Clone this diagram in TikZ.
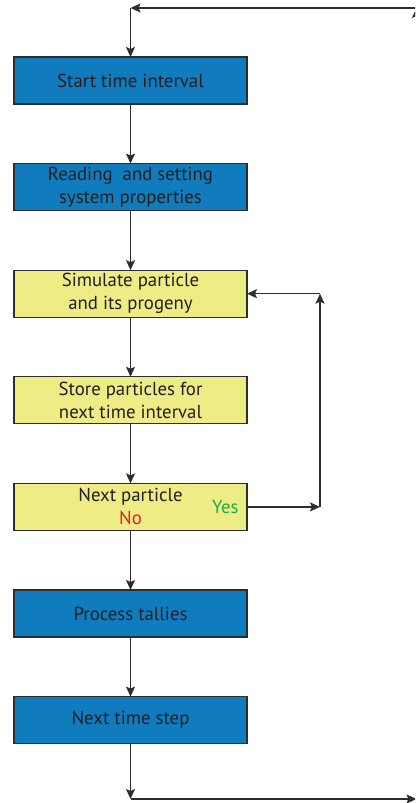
\documentclass[tikz,border=0pt]{standalone}
\usepackage{fontspec}
\setmainfont{PT Sans}
\usetikzlibrary{positioning,arrows.meta}

\definecolor{boxblue}{RGB}{16,124,190}
\definecolor{boxyellow}{RGB}{237,236,133}
\definecolor{linegray}{RGB}{45,45,45}
\definecolor{inkblack}{RGB}{35,31,32}
\definecolor{yesgreen}{RGB}{34,168,74}
\definecolor{nored}{RGB}{237,28,36}

\begin{document}
\begin{tikzpicture}[x=1pt, y=1pt,
    box/.style = {draw=linegray, line width=1.3pt, minimum width=233pt, minimum height=47pt,
                  inner sep=0pt, outer sep=0pt, align=center, text=inkblack,
                  font=\fontsize{18.8}{23}\selectfont},
    main/.style = {box, fill=boxblue},
    sub/.style = {box, fill=boxyellow},
    link/.style = {-{Stealth[length=10pt,width=9pt,inset=2pt]}, line width=1.3pt, linegray}]
    \useasboundingbox (0,0) rectangle (415,803);
    \clip (0,0) rectangle (415,803);

    \node[main] (1) at (130.5,722.5) {Start time interval};
    \node[main] (2) [below=59.6pt of 1] {Reading\ \ and setting\\system properties};
    \node[sub] (3) [below=59.6pt of 2] {Simulate particle\\and its progeny};
    \node[sub] (4) [below=59.6pt of 3] {Store particles for\\next time interval};
    \node[sub] (5) [below=59.6pt of 4] {Next particle\\\textcolor{nored}{No}};
    \node[main] (6) [below=59.6pt of 5] {Process tallies};
    \node[main] (7) [below=59.6pt of 6] {Next time step};
    \node[text=yesgreen, anchor=east, font=\fontsize{18.8}{23}\selectfont] (yes) at ([xshift=-5pt]5.east) {Yes};

    % loop back for the next particle
    \coordinate (turn) at ([xshift=73pt]5.east);
    \coordinate (back) at (turn |- 3.east);

    % outer loop over time steps
    \coordinate (bl) at (130.5,4);
    \coordinate (br) at (416.5,4);
    \coordinate (tr) at (416.5,795);
    \coordinate (tl) at (130.5,795);

    \draw[link] (1) -- (2);
    \draw[link] (2) -- (3);
    \draw[link] (3) -- (4);
    \draw[link] (4) -- (5);
    \draw[link] (5) -- (6);
    \draw[link] (6) -- (7);

    \draw[link] (5.east) -- (turn);
    \draw[link] (turn) -- (back);
    \draw[link] (back) -- (3.east);

    \draw[link] (7) -- (bl);
    \draw[link] (bl) -- (br);
    \draw[link] (br) -- (tr);
    \draw[link] (tr) -- (tl);
    \draw[link] (tl) -- (1);
\end{tikzpicture}
\end{document}
